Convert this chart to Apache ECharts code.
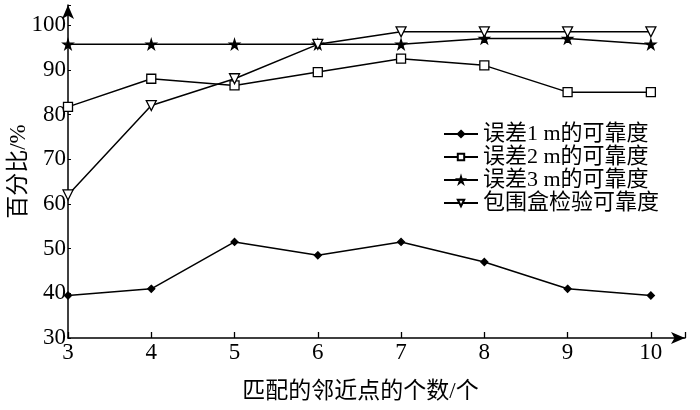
<!DOCTYPE html>
<html>
<head>
<meta charset="utf-8">
<script src="https://cdn.jsdelivr.net/npm/echarts@6/dist/echarts.min.js"></script>
<style>
  html, body { margin: 0; padding: 0; background: #fff; }
  #main { width: 700px; height: 410px; }
</style>
</head>
<body>
<div id="main"></div>
<script>
var xValues = [3, 4, 5, 6, 7, 8, 9, 10];
var err1m = [39.5, 41, 51.5, 48.5, 51.5, 47, 41, 39.5];
var err2m = [81.7, 88, 86.5, 89.5, 92.5, 91, 85, 85];
var err3m = [95.7, 95.7, 95.7, 95.7, 95.7, 97, 97, 95.7];
var boxCheck = [62, 82, 88, 95.7, 98.5, 98.5, 98.5, 98.5];
var seriesNames = ['误差1 m的可靠度', '误差2 m的可靠度', '误差3 m的可靠度', '包围盒检验可靠度'];

var font = "'Liberation Serif', 'Noto Sans CJK SC', serif";
var star = 'path://M50,0 L61,35 L98,35 L68,57 L79,91 L50,70 L21,91 L32,57 L2,35 L39,35 Z';

function pairs(ys) {
  return xValues.map(function (x, i) { return [x, ys[i]]; });
}

var chart = echarts.init(document.getElementById('main'));

function lineSeries(name, ys, symbol, size, filled, rotate) {
  return {
    name: name,
    type: 'line',
    data: pairs(ys),
    symbol: symbol,
    symbolSize: size,
    symbolRotate: rotate || 0,
    showAllSymbol: true,
    lineStyle: { color: '#000', width: 1.5 },
    itemStyle: { color: filled ? '#000' : '#fff', borderColor: '#000', borderWidth: 1.3 },
    z: 3
  };
}

chart.setOption({
  animation: false,
  grid: { left: 68, top: 5, width: 617, height: 333, containLabel: false, outerBoundsMode: 'none' },
  legend: {
    orient: 'vertical',
    left: 438,
    top: 118,
    itemWidth: 34,
    itemHeight: 8,
    itemGap: 1,
    data: seriesNames,
    textStyle: { fontFamily: font, fontSize: 22, color: '#000', lineHeight: 22 }
  },
  xAxis: {
    type: 'value',
    min: 3,
    max: 10.41,
    interval: 1,
    name: '匹配的邻近点的个数/个',
    nameLocation: 'middle',
    nameGap: 42,
    nameMoveOverlap: false,
    nameTextStyle: { fontFamily: font, fontSize: 23, color: '#000', padding: [0, 0, 0, -32] },
    axisLine: { lineStyle: { color: '#000', width: 1.5 }, symbol: ['none', 'arrow'], symbolSize: [9, 14] },
    axisTick: { inside: true, length: 6, lineStyle: { color: '#000', width: 1.3 } },
    axisLabel: {
      fontFamily: font, fontSize: 23, color: '#000', margin: 3,
      formatter: function (v) { return Number.isInteger(v) ? v : ''; }
    },
    splitLine: { show: false }
  },
  yAxis: {
    type: 'value',
    min: 30,
    max: 104.5,
    interval: 10,
    name: '百分比/%',
    nameLocation: 'middle',
    nameGap: 38,
    nameMoveOverlap: false,
    nameTextStyle: { fontFamily: font, fontSize: 23, color: '#000' },
    axisLine: { lineStyle: { color: '#000', width: 1.5 }, symbol: ['none', 'arrow'], symbolSize: [9, 14] },
    axisTick: { inside: true, length: 3, lineStyle: { color: '#000', width: 1 } },
    axisLabel: {
      fontFamily: font, fontSize: 23, color: '#000', margin: 2,
      formatter: function (v) { return v % 10 === 0 ? v : ''; }
    },
    splitLine: { show: false }
  },
  series: [
    lineSeries(seriesNames[0], err1m, 'diamond', 7, true),
    lineSeries(seriesNames[1], err2m, 'rect', 9, false),
    lineSeries(seriesNames[2], err3m, star, 10, true),
    lineSeries(seriesNames[3], boxCheck, 'triangle', 10, false, 180)
  ]
});
</script>
</body>
</html>
